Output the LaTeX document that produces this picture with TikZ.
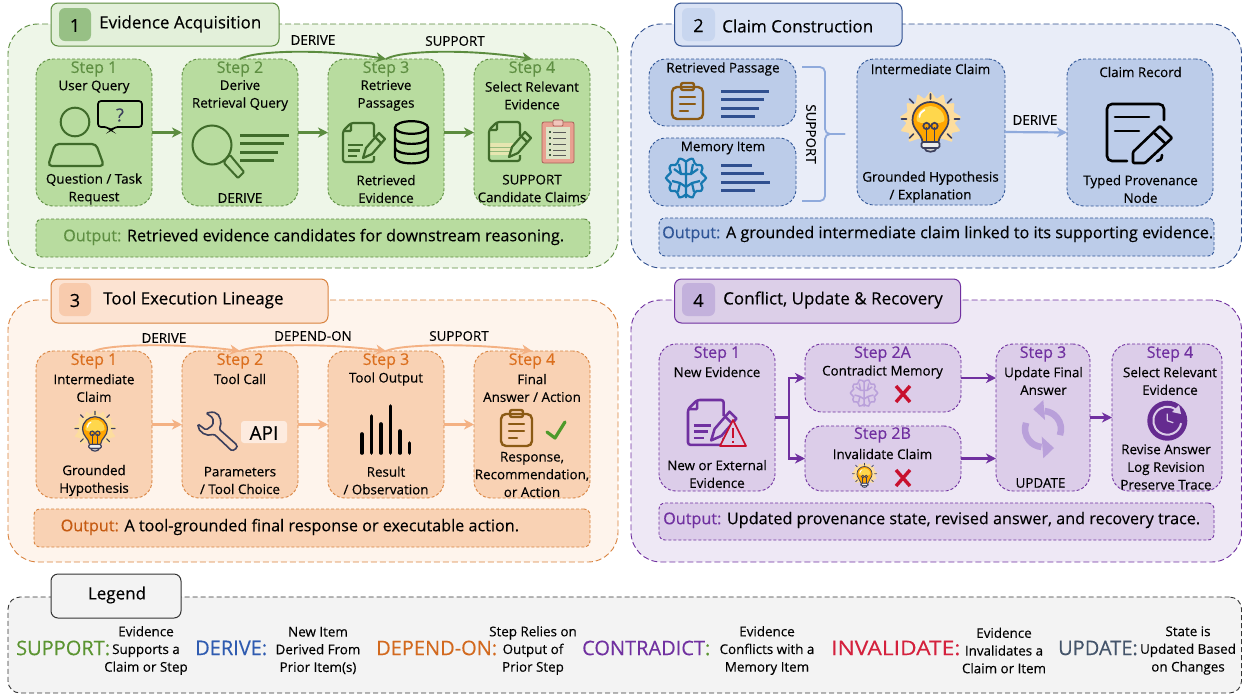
\documentclass[tikz,border=0pt]{standalone}
\usepackage{fontspec}
\setmainfont[FakeBold=0.25]{Open Sans}
\usetikzlibrary{arrows.meta,calc}
\definecolor{gP}{HTML}{EEF6E8}\definecolor{gB}{HTML}{5B8C3E}\definecolor{gT}{HTML}{E3F0DA}\definecolor{gD}{HTML}{97C085}\definecolor{gS}{HTML}{B8DC9F}\definecolor{gK}{HTML}{3F6B2A}\definecolor{gC}{HTML}{5E8F42}
\definecolor{bP}{HTML}{E9EDF8}\definecolor{bB}{HTML}{2F4F8F}\definecolor{bT}{HTML}{DAE3F5}\definecolor{bD}{HTML}{C8D6EF}\definecolor{bS}{HTML}{BCCCE9}\definecolor{bA}{HTML}{8FAADC}\definecolor{bC}{HTML}{2F5597}
\definecolor{oP}{HTML}{FEF4EC}\definecolor{oB}{HTML}{D9833F}\definecolor{oT}{HTML}{FCE3D2}\definecolor{oD}{HTML}{F8CBAD}\definecolor{oS}{HTML}{F9D2B4}\definecolor{oA}{HTML}{F4B183}\definecolor{oC}{HTML}{C55A11}\definecolor{oE}{HTML}{DB6F1E}
\definecolor{pP}{HTML}{EEE8F5}\definecolor{pB}{HTML}{7030A0}\definecolor{pT}{HTML}{DCCFE8}\definecolor{pD}{HTML}{C3B1DC}\definecolor{pS}{HTML}{DCCDE9}\definecolor{pL}{HTML}{B9A0DA}
\definecolor{lP}{HTML}{F3F3F3}\definecolor{lB}{HTML}{333333}
\definecolor{brn}{HTML}{8B5A14}\definecolor{redx}{HTML}{C8102E}\definecolor{navy}{HTML}{3B3F5C}\definecolor{updc}{HTML}{44546A}\definecolor{depc}{HTML}{D2691E}\definecolor{supc}{HTML}{5B9431}\definecolor{derc}{HTML}{2F5BB0}\definecolor{invc}{HTML}{D4213D}
\definecolor{brainb}{HTML}{1678B0}\definecolor{pinkc}{HTML}{E8A090}\definecolor{pinkd}{HTML}{A86058}\definecolor{paperc}{HTML}{DDE3C6}\definecolor{patchc}{HTML}{E6E6B0}\definecolor{checkc}{HTML}{4E9A2A}
\tikzset{
 x=1pt,y=-1pt,
 boxn/.style={rectangle,inner sep=0pt,outer sep=0pt},
 panelbox/.style={boxn,rounded corners=30pt,dash pattern=on 6pt off 3pt,line width=.9pt},
 titlebox/.style={boxn,rounded corners=7pt,line width=1pt},
 badge/.style={boxn,rounded corners=6pt},
 stepbox/.style={boxn,rounded corners=17pt,dash pattern=on 3pt off 2pt,line width=.9pt},
 outbox/.style={boxn,rounded corners=6pt,dash pattern=on 3pt off 2pt,line width=.9pt},
 fb/.style={inner sep=0pt,align=center,yshift=-1pt,font=\fontsize{13.4}{17.7}\selectfont},
 fs/.style={inner sep=0pt,yshift=-2pt,font=\fontsize{16}{18}\selectfont},
 ft/.style={inner sep=0pt,anchor=west,yshift=-2pt,font=\fontsize{17}{20}\selectfont},
 fo/.style={inner sep=0pt,anchor=west,yshift=-2pt,font=\fontsize{16.2}{20}\selectfont},
 fn/.style={inner sep=0pt,yshift=-1pt,font=\fontsize{18}{20}\selectfont},
 fl/.style={inner sep=0pt,anchor=west,font=\fontsize{20}{22}\selectfont},
 arr/.style={line width=2.2pt,-{Stealth[length=10pt,width=10pt,inset=3pt]}},
 carr/.style={line width=1.9pt,-{Stealth[length=10pt,width=10pt,inset=3pt]}},
}
\newcommand\bx[6]{\pgfmathsetmacro\bw{#5-#3}\pgfmathsetmacro\bh{#6-#4}\node[#2,minimum width=\bw pt,minimum height=\bh pt,anchor=north west] (#1) at (#3,#4) {};}
\newcommand\icbulb[3]{\begin{scope}[shift={(#1,#2)},scale=#3]
 \pgfmathsetlengthmacro\ilw{max(1.7*#3,.7)*1pt}
 \fill[yellow!30!orange!35!white,rounded corners=1pt] (0,-36)--(6,-28)--(13,-33)--(15,-23)--(24,-24)--(23,-15)--(31,-10)--(24,-4)--(30,4)--(21,6)--(22,15)--(13,12)--(0,10)--(-13,12)--(-22,15)--(-21,6)--(-30,4)--(-24,-4)--(-31,-10)--(-23,-15)--(-24,-24)--(-15,-23)--(-13,-33)--(-6,-28)--cycle;
 \draw[navy,line width=\ilw,fill=orange!70!yellow] (-8,15) .. controls (-9,6) and (-18,3) .. (-18,-7) .. controls (-18,-18) and (-9,-25) .. (0,-25) .. controls (9,-25) and (18,-18) .. (18,-7) .. controls (18,3) and (9,6) .. (8,15) -- cycle;
 \fill[orange!45!yellow!70!white] (-14,-7) .. controls (-14,-15) and (-7,-21) .. (0,-21) .. controls (7,-21) and (14,-15) .. (14,-7) .. controls (14,-2) and (-14,-2) .. (-14,-7) -- cycle;
 \draw[navy,line width=\ilw] (-4,15)--(-4,0) (4,15)--(4,0);
 \draw[navy,line width=\ilw] (-4,-1) circle (3.2) (4,-1) circle (3.2);
 \draw[navy,line width=\ilw,fill=gray!15,rounded corners=1.5] (-9,15) rectangle (9,21);
 \draw[navy,line width=\ilw,fill=gray!35] (-6,21) -- (6,21) .. controls (6,26) and (-6,26) .. (-6,21) -- cycle;
 \draw[navy,line width=\ilw,line cap=round] (-29,-8)--(-24,-8) (29,-8)--(24,-8) (0,-33)--(0,-28) (-21,-28)--(-17,-24) (21,-28)--(17,-24) (-21,11)--(-17,7) (21,11)--(17,7);
 \draw[white,line width=\ilw,line cap=round] (-11,-10) .. controls (-11,-14) and (-8,-16) .. (-6,-17);
\end{scope}}
\newcommand\icdoc[4]{\begin{scope}[shift={(#1,#2)},scale=#3]
 \pgfmathsetlengthmacro\ilw{2.2*#3*1pt}
 \draw[#4,line width=\ilw,rounded corners=2.5] (31,14)--(31,0)--(8,0)--(0,8)--(0,39)--(31,39)--(31,33);
 \draw[#4,line width=\ilw,rounded corners=1] (8,0)--(8,8)--(0,8);
\end{scope}}
\newcommand\icdoclines[4]{\begin{scope}[shift={(#1,#2)},scale=#3]
 \pgfmathsetlengthmacro\ilw{2.2*#3*1pt}
 \draw[#4,line width=\ilw] (5,22)--(20,22) (5,27.5)--(17,27.5) (5,33)--(14,33);
\end{scope}}
\newcommand\icpen[5]{\begin{scope}[shift={(#1,#2)},scale=#3]
 \pgfmathsetlengthmacro\ilw{2.2*#3*1pt}
 \draw[#4,line width=\ilw,fill=#5,line join=round] (24,26)--(37,11)--(43,17)--(30,32)--(21,36)--cycle;
 \draw[#4,line width=\ilw] (33,15)--(39,21);
\end{scope}}
\newcommand\icclip[4]{\begin{scope}[shift={(#1,#2)},scale=#3]
 \pgfmathsetlengthmacro\ilw{2.4*#3*1pt}
 \draw[#4,line width=\ilw,rounded corners=5] (0,4) rectangle (31,36);
 \draw[#4,line width=\ilw,rounded corners=2] (9,0) rectangle (22,7);
 \draw[#4,line width=\ilw,line cap=round] (8,14)--(23,14) (8,21)--(23,21) (8,28)--(16,28);
\end{scope}}
\newcommand\icbrain[4]{\begin{scope}[shift={(#1,#2)},scale=#3]
 \pgfmathsetlengthmacro\ilw{2.2*#3*1pt}
 \draw[#4,line width=\ilw] plot[domain=0:350,samples=36,smooth cycle] ({(18+2*cos(10*\x))*cos(\x)},{(18.5+2*cos(10*\x))*sin(\x)});
 \draw[#4,line width=\ilw] (0,-18)--(0,20) (-12,-9)--(-5,-4)--(0,-4) (12,-9)--(5,-4)--(0,-4) (-14,3)--(-6,5)--(0,9) (14,3)--(6,5)--(0,9) (-7,-14)--(-5,-4) (7,-14)--(5,-4) (-8,14)--(-6,5) (8,14)--(6,5);
\end{scope}}
\begin{document}
\begin{tikzpicture}
\useasboundingbox (0,0) rectangle (1245,694);
% panels
\bx{p1}{panelbox,draw=gB,fill=gP}{8}{24}{618}{268}
\bx{p2}{panelbox,draw=bB,fill=bP}{631}{24}{1241.5}{268}
\bx{p3}{panelbox,draw=oB,fill=oP}{8}{300}{618}{562}
\bx{p4}{panelbox,draw=pB,fill=pP}{631}{300}{1241.5}{562}
\bx{p5}{panelbox,rounded corners=12pt,dash pattern=on 5pt off 3pt,draw=lB,fill=lP}{8}{597}{1241.5}{693}
% titles
\bx{t1}{titlebox,draw=gB,fill=gT}{51}{3}{279}{46}
\bx{b1}{badge,fill=gD}{59}{8}{91}{41}
\node[fn] (n1) at (b1) {1};
\node[ft] (tt1) at (99,22) {Evidence Acquisition};
\bx{t2}{titlebox,draw=bB,fill=bT}{674.5}{3}{902}{46}
\bx{b2}{badge,fill=bD}{682}{8}{715}{41}
\node[fn] (n2) at (b2) {2};
\node[ft] (tt2) at (722,24) {Claim Construction};
\bx{t3}{titlebox,draw=oB,fill=oT}{51}{279}{328}{323}
\bx{b3}{badge,fill=oD}{59}{283}{91}{316}
\node[fn] (n3) at (b3) {3};
\node[ft] (tt3) at (103,298) {Tool Execution Lineage};
\bx{t4}{titlebox,draw=pB,fill=pT}{674.5}{279}{960.5}{323}
\bx{b4}{badge,fill=pD}{682}{283}{715}{316}
\node[fn] (n4) at (b4) {4};
\node[ft] (tt4) at (723,298) {Conflict, Update \& Recovery};
\bx{t5}{titlebox,draw=lB,fill=lP}{51}{574}{181}{618}
\node[fn,font=\fontsize{17}{20}\selectfont] (tt5) at (117,594) {Legend};
% ---------- panel 1 boxes
\bx{a1}{stepbox,draw=gB,fill=gS}{36}{59}{152}{206}
\bx{a2}{stepbox,draw=gB,fill=gS}{182}{59}{298}{206}
\bx{a3}{stepbox,draw=gB,fill=gS}{328}{59}{444}{206}
\bx{a4}{stepbox,draw=gB,fill=gS}{474}{59}{590}{206}
\bx{ao}{outbox,draw=gB,fill=gS}{36}{219}{590}{257}
\draw[arr,gB] (a1.east)--(a2.west);
\draw[arr,gB] (a2.east)--(a3.west);
\draw[arr,gB] (a3.east)--(a4.west);
\draw[carr,gB] (a2.north) .. controls +(15,-9) and +(-60,-10) .. (a3.north);
\draw[carr,gB] (a3.north) .. controls +(15,-9) and +(-60,-10) .. (a4.north);
\node[fb] (l1) at (313,39) {DERIVE};
\node[fb] (l2) at (455,40) {SUPPORT};
\foreach \n/\x/\s in {a/94/Step 1,b/240/Step 2,c/386/Step 3,d/532/Step 4}{\node[fs,text=gC] (s1\n) at (\x,67) {\s};}
\node[fb] (a1u) at (94,86) {User Query};
\node[fb] (a1d) at (94,188) {Question / Task\\Request};
\node[fb] (a2u) at (240,94.5) {Derive\\Retrieval Query};
\node[fb] (a2d) at (240,197) {DERIVE};
\node[fb] (a3u) at (386,94.5) {Retrieve\\Passages};
\node[fb] (a3d) at (386,188) {Retrieved\\Evidence};
\node[fb] (a4u) at (532,94.5) {Select Relevant\\Evidence};
\node[fb] (a4d) at (532,187.5) {SUPPORT\\Candidate Claims};
\node[fo] (ao1) at (63,235) {\textcolor{gC}{Output:} Retrieved evidence candidates for downstream reasoning.};
% icons panel 1
\draw[gK,line width=2pt] (75,122) circle (14.3);
\draw[gK,line width=2.2pt,rounded corners=4pt] (55,144)--(96,144)--(104,166)--(48,166)--cycle;
\draw[black,line width=1.7pt,rounded corners=3pt] (107,127)--(98,127)--(98,101)--(142,101)--(142,127)--(115,127)--(111,130.5)--cycle;
\node[fn,text=navy] (q1) at (120,114) {?};
\draw[gK,line width=2pt] (212,145) circle (19.5);
\draw[gK,line width=2pt,rounded corners=1pt] (226,159)--(230,155)--(244,172)--(238,178)--(224,163)--cycle;
\draw[gK,line width=3pt] (240,135)--(289,135) (240,143)--(284,143) (240,152)--(278,152) (240,160)--(274,160);
\icdoc{343}{123}{1}{gK}\icdoclines{343}{123}{1}{gK}\icpen{342}{122}{1}{gK}{gS}
\draw[black,line width=2.2pt] (411.5,127.5) ellipse (16.5 and 6.3);
\draw[black,line width=2.2pt] (395,127.5)--(395,157) .. controls (395,165.5) and (428,165.5) .. (428,157)--(428,127.5);
\draw[black,line width=2.2pt] (395,137.5) .. controls (395,146) and (428,146) .. (428,137.5) (395,147.5) .. controls (395,156) and (428,156) .. (428,147.5);
\fill[patchc] (490,143) rectangle (513,155);
\draw[gS!70!gK,line width=.8pt] (490,147)--(513,147) (490,151)--(513,151);
\icdoc{489}{122}{1}{gK}\icpen{488}{121}{1}{gK}{gS}
\draw[pinkd,line width=.8pt,fill=pinkc,rounded corners=2pt] (542,122) rectangle (574,163);
\fill[paperc] (546,127) rectangle (570,159);
\draw[pinkd,line width=.8pt,rounded corners=1pt,fill=pinkc!60!white] (553,120) rectangle (563,126);
\foreach \yy in {132,138,144,150,155}{\draw[gK!60!navy,line width=1.6pt] (549,\yy)--(551,\yy);\draw[gray!70!black,line width=.6pt] (553,\yy)--(566,\yy);}
% ---------- panel 2
\bx{r1}{stepbox,draw=bC,fill=bS}{649}{59}{796}{126}
\bx{r2}{stepbox,draw=bC,fill=bS}{649}{138}{796}{206}
\bx{r3}{stepbox,draw=bC,fill=bS}{857}{59}{1005}{205}
\bx{r4}{stepbox,draw=bC,fill=bS}{1067}{59}{1213}{206}
\bx{ro}{outbox,draw=bC,fill=bS}{659}{218}{1214}{256}
\coordinate (bt1) at (802,67); \coordinate (bt2) at (802,201); \coordinate (btt) at (845,134); \coordinate (btm) at (825,134);
\draw[bA,line width=1.8pt,rounded corners=5pt] (bt1)-|(btm)--(btt);
\draw[bA,line width=1.8pt,rounded corners=5pt] (bt2)-|(btm)--(btt);
\node[fb,rotate=-90] (rs) at (811,133) {SUPPORT};
\draw[arr,bA] (r3.east)--(r4.west);
\node[fb] (rd) at (1035,119) {DERIVE};
\node[fb] (r1u) at (723,68) {Retrieved Passage};
\node[fb] (r2u) at (723,147) {Memory Item};
\node[fb] (r3u) at (930.5,68) {Intermediate Claim};
\node[fb] (r3d) at (930.5,186) {Grounded Hypothesis\\/ Explanation};
\node[fb] (r4u) at (1140.5,71) {Claim Record};
\node[fb] (r4d) at (1140.5,188) {Typed Provenance\\Node};
\node[fo] (ro1) at (662,232) {\textcolor{bC}{Output:} A grounded intermediate claim linked to its supporting evidence.};
\icclip{672}{83}{1}{brn}
\icbrain{686}{178}{1}{brainb}
\draw[bB,line width=3pt] (721,91)--(769,91) (721,99)--(764,99) (721,108)--(759,108) (721,116)--(755,116);
\draw[bB,line width=3pt] (721,165)--(752,165) (721,173)--(764,173) (721,182)--(770,182) (721,190)--(755,190);
\icbulb{930.5}{127}{1}
\draw[black,line width=2.6pt,line cap=round,rounded corners=5pt] (1164,120)--(1164,104)--(1107,104)--(1107,161)--(1127,161);
\draw[black,line width=2.6pt,line cap=round] (1115,117)--(1149,117) (1115,131)--(1139,131);
\draw[black,line width=2.6pt,line join=round,rounded corners=1pt] (1133,152)--(1160,126)--(1172,138)--(1145,163)--(1133,163)--cycle;
\draw[black,line width=2.6pt] (1153,132)--(1166,144);
\draw[black,line width=2.6pt,line cap=round] (1162,155) .. controls (1162,159) and (1160,161) .. (1157,161);
% ---------- panel 3
\bx{c1}{stepbox,draw=oB,fill=oS}{36}{351}{152}{498}
\bx{c2}{stepbox,draw=oB,fill=oS}{182}{351}{298}{498}
\bx{c3}{stepbox,draw=oB,fill=oS}{328}{351}{444}{498}
\bx{c4}{stepbox,draw=oB,fill=oS}{474}{351}{590}{498}
\bx{co}{outbox,draw=oB,fill=oS}{34}{509}{590}{547}
\draw[arr,oA] (c1.east)--(c2.west);
\draw[arr,oA] (c2.east)--(c3.west);
\draw[arr,oA] (c3.east)--(c4.west);
\draw[carr,oA] (c1.north) .. controls +(15,-7) and +(-60,-8) .. (c2.north);
\draw[carr,oA] (c2.north) .. controls +(15,-7) and +(-60,-8) .. (c3.north);
\draw[carr,oA] (c3.north) .. controls +(15,-7) and +(-60,-8) .. (c4.north);
\node[fb] (cl1) at (164,337) {DERIVE};
\node[fb] (cl2) at (313,335) {DEPEND-ON};
\node[fb] (cl3) at (459,335) {SUPPORT};
\foreach \n/\x/\s in {a/94/Step 1,b/240/Step 2,c/386/Step 3,d/532/Step 4}{\node[fs,text=oE] (s3\n) at (\x,359) {\s};}
\node[fb] (c1u) at (94,387) {Intermediate\\Claim};
\node[fb] (c1d) at (94,479.5) {Grounded\\Hypothesis};
\node[fb] (c2u) at (240,378) {Tool Call};
\node[fb] (c2d) at (240,479.5) {Parameters\\/ Tool Choice};
\node[fb] (c3u) at (386,378) {Tool Output};
\node[fb] (c3d) at (386,479.5) {Result\\/ Observation};
\node[fb] (c4u) at (532,387) {Final\\Answer / Action};
\node[fb] (c4d) at (532,473.5) {Response,\\Recommendation,\\or Action};
\node[fo] (co1) at (60.5,525) {\textcolor{oC}{Output:} A tool-grounded final response or executable action.};
\icbulb{95}{434}{.69}
\draw[navy,line width=1.6pt,rounded corners=1.5pt] (213,412) .. controls (221,414) and (222,424) .. (219,429)--(237,445)--(237,448)--(232,451)--(214,434) .. controls (207,437) and (198,432) .. (198,424)--(206,430)--(213,425)--(213,418)--(206,413)--cycle;
\bx{api}{boxn,rounded corners=3pt,fill=oT!70!white}{241}{421}{287}{443}
\node[inner sep=0pt,yshift=-1pt,font=\fontsize{19}{20}\selectfont] (apit) at (api) {API};
\foreach \xx/\yy in {362/434,371.6/416,381/424,390.6/406,400/431,409.6/443}{\draw[black,line width=3.6pt,line cap=round] (\xx,453)--(\xx,\yy);}
\icclip{501}{410}{1}{brn}
\draw[checkc,line width=3.2pt,line cap=round,line join=round] (547,432)--(555,438)--(565,422);
% ---------- panel 4
\bx{d1}{stepbox,draw=pB,fill=pS}{659}{344}{775}{491}
\bx{d2}{stepbox,draw=pB,fill=pS}{805}{344}{961}{412}
\bx{d3}{stepbox,draw=pB,fill=pS}{805}{426}{961}{491}
\bx{d4}{stepbox,draw=pB,fill=pS}{996}{344}{1090}{491}
\bx{d5}{stepbox,draw=pB,fill=pS}{1112}{344}{1222}{491}
\bx{do}{outbox,draw=pB,fill=pS}{659}{503}{1214}{540}
\draw[pB,line width=2.2pt] (d1.east)--++(14,0) coordinate (fork);
\draw[arr,pB] (fork)|-(d2.west);
\draw[arr,pB] (fork)|-(d3.west);
\draw[arr,pB] (d2.east)--(d2.east-|d4.west);
\draw[arr,pB] (d3.east)--(d3.east-|d4.west);
\draw[arr,pB] (d4.east)--(d5.west);
\foreach \n/\x/\y/\s in {a/717/352/Step 1,b/882.5/352/Step 2A,c/882.5/433/Step 2B,d/1043/352/Step 3,e/1170/352/Step 4}{\node[fs,text=pB] (s4\n) at (\x,\y) {\s};}
\node[fb] (d1u) at (717,371) {New Evidence};
\node[fb] (d1d) at (717,473) {New or External\\Evidence};
\node[fb] (d2u) at (882.5,371) {Contradict Memory};
\node[fb] (d3u) at (882.5,453) {Invalidate Claim};
\node[fb] (d4u) at (1043.5,380) {Update Final\\Answer};
\node[fb] (d4d) at (1040.5,482) {UPDATE};
\node[fb] (d5u) at (1170,380) {Select Relevant\\Evidence};
\node[fb] (d5d) at (1166,466) {Revise Answer\\Log Revision\\Preserve Trace};
\node[fo] (do1) at (663,518) {\textcolor{pB}{Output:} Updated provenance state, revised answer, and recovery trace.};
\icdoc{688}{400}{1.15}{pB}\icdoclines{688}{400}{1.15}{pB}\icpen{687}{399}{1.15}{pB}{pS}
\draw[redx,line width=1.7pt,fill=pS,line join=round] (733,420)--(746,446)--(720,446)--cycle;
\draw[redx,line width=1.8pt] (733,428)--(733,438) (733,440.5)--(733,443);
\icbrain{864}{393}{.68}{pL}
\draw[redx,line width=3.4pt] (896,386)--(910,402) (910,386)--(896,402);
\icbulb{864.5}{477}{.42}
\draw[redx,line width=3.4pt] (896,470)--(910,486) (910,470)--(896,486);
\coordinate (cyc) at (1043,429);
\draw[pL,line width=6.5pt] ([shift={(20:18)}]cyc) arc[start angle=20,end angle=-85,radius=18];
\fill[pL] (1043.3,400)--(1045,420)--(1033.3,409.3)--cycle;
\draw[pL,line width=6.5pt] ([shift={(-160:18)}]cyc) arc[start angle=-160,end angle=-265,radius=18];
\fill[pL] (1054,448)--(1041.7,436.7)--(1043.3,458.3)--cycle;
\coordinate (clk) at (1167.3,420.7);
\fill[pB!90!black] (clk) circle (20);
\draw[pS,line width=2pt] ([shift={(-55:14)}]clk) arc[start angle=-55,end angle=-350,radius=14];
\fill[pS] (1179,405)--(1181,414)--(1172,412)--cycle;
\draw[pS,line width=1.3pt] (clk)--++(0,-7) (clk)--++(6,2);
% ---------- legend
\node[fl,text=supc] (k1) at (16,648) {SUPPORT:};
\node[fb] (k1d) at (146,649.5) {Evidence\\Supports a\\Claim or Step};
\node[fl,text=derc] (k2) at (195,648) {DERIVE:};
\node[fb] (k2d) at (318,649.5) {New Item\\Derived From\\Prior Item(s)};
\node[fl,text=depc] (k3) at (376,648) {DEPEND-ON:};
\node[fb] (k3d) at (533,649.5) {Step Relies on\\Output of\\Prior Step};
\node[fl,text=pB] (k4) at (582,648) {CONTRADICT\textcolor{supc}{:}};
\node[fb] (k4d) at (767,649.5) {Evidence\\Conflicts with a\\Memory Item};
\node[fl,text=invc] (k5) at (831,648) {\scalebox{1.14}[1]{INVALIDATE:}};
\node[fb] (k5d) at (1004,649.5) {Evidence\\Invalidates a\\Claim or Item};
\node[fl,text=updc] (k6) at (1058,648) {UPDATE:};
\node[fb] (k6d) at (1188,649.5) {State is\\Updated Based\\on Changes};
\end{tikzpicture}
\end{document}
